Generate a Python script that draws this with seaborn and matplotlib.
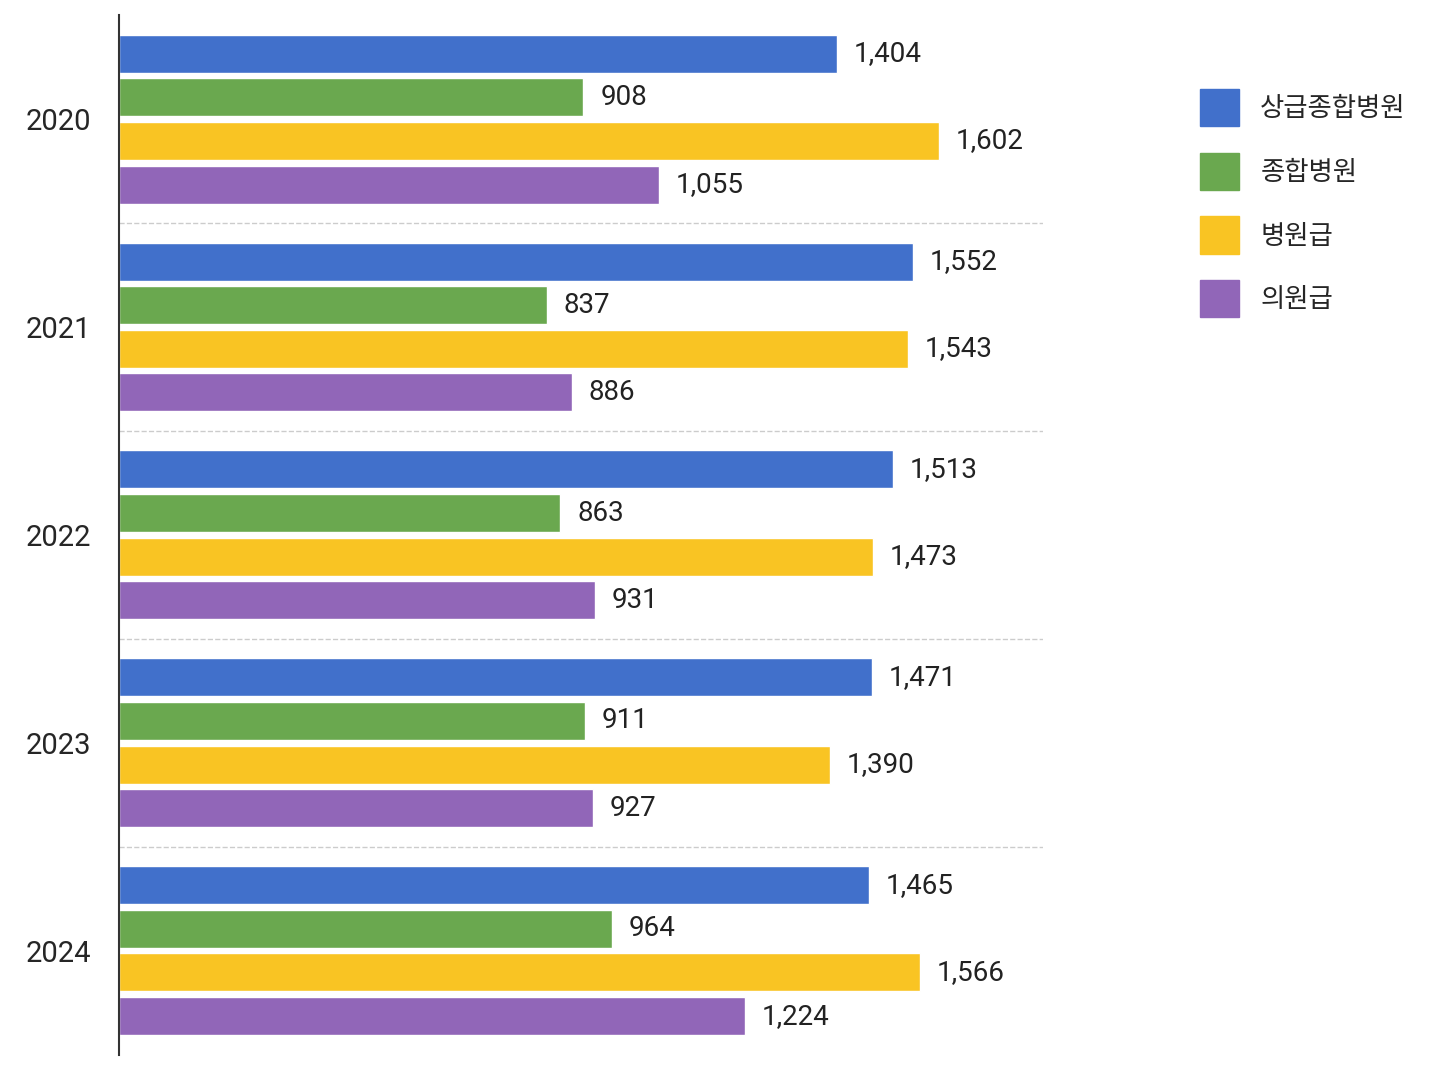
import matplotlib
matplotlib.use("Agg")
import matplotlib.pyplot as plt
import seaborn as sns
import pandas as pd
from matplotlib.patches import Patch

years = ["2020", "2021", "2022", "2023", "2024"]
series = ["상급종합병원", "종합병원", "병원급", "의원급"]
v_sang = [1404, 1552, 1513, 1471, 1465]
v_jong = [908, 837, 863, 911, 964]
v_byeong = [1602, 1543, 1473, 1390, 1566]
v_ui = [1055, 886, 931, 927, 1224]
colors = ["#4170CB", "#6AA84F", "#F9C423", "#9166B8"]

rows = []
for s, vals in zip(series, [v_sang, v_jong, v_byeong, v_ui]):
    for y, v in zip(years, vals):
        rows.append({"year": y, "type": s, "value": v})
df = pd.DataFrame(rows)

sns.set_style("white")
plt.rcParams['font.family'] = ['Roboto', 'Noto Sans CJK KR', 'DejaVu Sans']

fig = plt.figure(figsize=(14.48, 10.86), dpi=100)
ax = fig.add_axes([0.082, 0.029, 0.638, 0.957])
sns.barplot(data=df, y="year", x="value", hue="type", orient="h",
            palette=colors, width=0.84, gap=0.13, ax=ax, legend=False,
            saturation=1)
for c in ax.containers:
    ax.bar_label(c, labels=[f"{int(v):,}" for v in c.datavalues],
                 padding=12, fontsize=20, color="#222222")
ax.set_xlim(0, 1805)
ax.set_ylim(4.5, -0.5)
for b in [0.5, 1.5, 2.5, 3.5]:
    ax.axhline(b, color="#cccccc", ls="--", lw=1)
for s in ["top", "right", "bottom"]:
    ax.spines[s].set_visible(False)
ax.spines["left"].set_color("#333333")
ax.spines["left"].set_linewidth(1.5)
ax.set_xticks([])
ax.set_xlabel("")
ax.set_ylabel("")
ax.tick_params(axis="y", length=0, labelsize=21, pad=20)
handles = [Patch(color=c, label=s) for c, s in zip(colors, series)]
fig.legend(handles=handles, loc="upper left", bbox_to_anchor=(0.812, 0.94),
           frameon=False, fontsize=19, handlelength=1.5, handleheight=1.8,
           labelspacing=1.0, handletextpad=0.8)
fig.savefig("out.png", dpi=100)
